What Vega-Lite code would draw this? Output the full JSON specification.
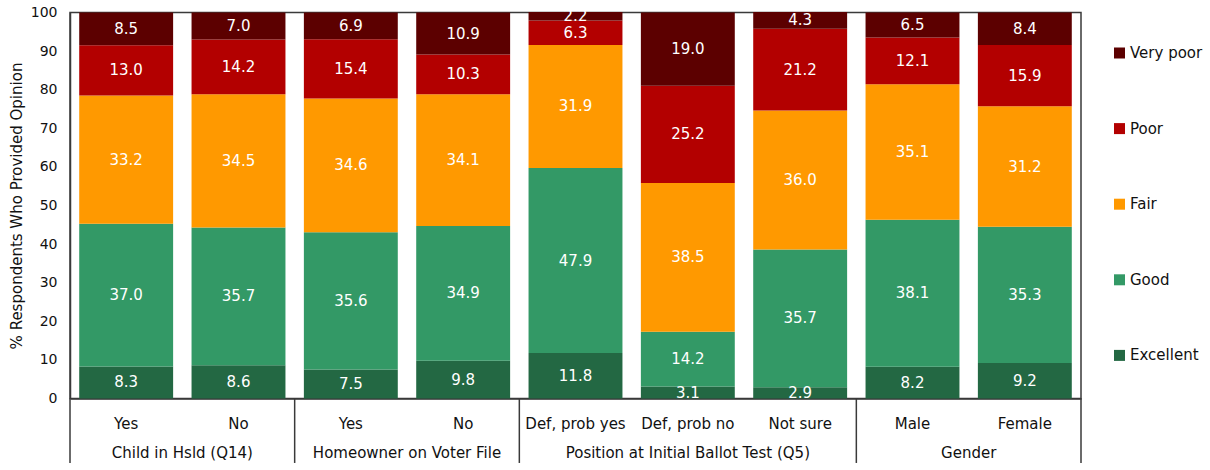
{
  "$schema": "https://vega.github.io/schema/vega-lite/v6.json",
  "autosize": {"type": "none"},
  "width": 1011,
  "height": 386,
  "padding": {"left": 70, "top": 12.5, "right": 129, "bottom": 71.5},
  "background": "white",
  "resolve": {"axis": {"y": "independent"}},
  "config": {
    "font": "DejaVu Sans",
    "view": {"stroke": "#3a3a3a", "strokeWidth": 1.5},
    "axis": {"grid": false, "labelColor": "#111", "titleColor": "#111", "domainColor": "#3a3a3a", "domainWidth": 1.5},
    "axisX": {"labelAngle": 0, "ticks": false, "labelPadding": 17.5, "labelFontSize": 15, "labelBaseline": "top"}
  },
  "datasets": {
    "ratings": [
      {"key": "Child|Yes", "group": "Child in Hsld (Q14)", "rating": "Excellent", "rank": 1, "pct": 8.3},
      {"key": "Child|Yes", "group": "Child in Hsld (Q14)", "rating": "Good", "rank": 2, "pct": 37.0},
      {"key": "Child|Yes", "group": "Child in Hsld (Q14)", "rating": "Fair", "rank": 3, "pct": 33.2},
      {"key": "Child|Yes", "group": "Child in Hsld (Q14)", "rating": "Poor", "rank": 4, "pct": 13.0},
      {"key": "Child|Yes", "group": "Child in Hsld (Q14)", "rating": "Very poor", "rank": 5, "pct": 8.5},
      {"key": "Child|No", "group": "Child in Hsld (Q14)", "rating": "Excellent", "rank": 1, "pct": 8.6},
      {"key": "Child|No", "group": "Child in Hsld (Q14)", "rating": "Good", "rank": 2, "pct": 35.7},
      {"key": "Child|No", "group": "Child in Hsld (Q14)", "rating": "Fair", "rank": 3, "pct": 34.5},
      {"key": "Child|No", "group": "Child in Hsld (Q14)", "rating": "Poor", "rank": 4, "pct": 14.2},
      {"key": "Child|No", "group": "Child in Hsld (Q14)", "rating": "Very poor", "rank": 5, "pct": 7.0},
      {"key": "Home|Yes", "group": "Homeowner on Voter File", "rating": "Excellent", "rank": 1, "pct": 7.5},
      {"key": "Home|Yes", "group": "Homeowner on Voter File", "rating": "Good", "rank": 2, "pct": 35.6},
      {"key": "Home|Yes", "group": "Homeowner on Voter File", "rating": "Fair", "rank": 3, "pct": 34.6},
      {"key": "Home|Yes", "group": "Homeowner on Voter File", "rating": "Poor", "rank": 4, "pct": 15.4},
      {"key": "Home|Yes", "group": "Homeowner on Voter File", "rating": "Very poor", "rank": 5, "pct": 6.9},
      {"key": "Home|No", "group": "Homeowner on Voter File", "rating": "Excellent", "rank": 1, "pct": 9.8},
      {"key": "Home|No", "group": "Homeowner on Voter File", "rating": "Good", "rank": 2, "pct": 34.9},
      {"key": "Home|No", "group": "Homeowner on Voter File", "rating": "Fair", "rank": 3, "pct": 34.1},
      {"key": "Home|No", "group": "Homeowner on Voter File", "rating": "Poor", "rank": 4, "pct": 10.3},
      {"key": "Home|No", "group": "Homeowner on Voter File", "rating": "Very poor", "rank": 5, "pct": 10.9},
      {"key": "Pos|Def, prob yes", "group": "Position at Initial Ballot Test (Q5)", "rating": "Excellent", "rank": 1, "pct": 11.8},
      {"key": "Pos|Def, prob yes", "group": "Position at Initial Ballot Test (Q5)", "rating": "Good", "rank": 2, "pct": 47.9},
      {"key": "Pos|Def, prob yes", "group": "Position at Initial Ballot Test (Q5)", "rating": "Fair", "rank": 3, "pct": 31.9},
      {"key": "Pos|Def, prob yes", "group": "Position at Initial Ballot Test (Q5)", "rating": "Poor", "rank": 4, "pct": 6.3},
      {"key": "Pos|Def, prob yes", "group": "Position at Initial Ballot Test (Q5)", "rating": "Very poor", "rank": 5, "pct": 2.2},
      {"key": "Pos|Def, prob no", "group": "Position at Initial Ballot Test (Q5)", "rating": "Excellent", "rank": 1, "pct": 3.1},
      {"key": "Pos|Def, prob no", "group": "Position at Initial Ballot Test (Q5)", "rating": "Good", "rank": 2, "pct": 14.2},
      {"key": "Pos|Def, prob no", "group": "Position at Initial Ballot Test (Q5)", "rating": "Fair", "rank": 3, "pct": 38.5},
      {"key": "Pos|Def, prob no", "group": "Position at Initial Ballot Test (Q5)", "rating": "Poor", "rank": 4, "pct": 25.2},
      {"key": "Pos|Def, prob no", "group": "Position at Initial Ballot Test (Q5)", "rating": "Very poor", "rank": 5, "pct": 19.0},
      {"key": "Pos|Not sure", "group": "Position at Initial Ballot Test (Q5)", "rating": "Excellent", "rank": 1, "pct": 2.9},
      {"key": "Pos|Not sure", "group": "Position at Initial Ballot Test (Q5)", "rating": "Good", "rank": 2, "pct": 35.7},
      {"key": "Pos|Not sure", "group": "Position at Initial Ballot Test (Q5)", "rating": "Fair", "rank": 3, "pct": 36.0},
      {"key": "Pos|Not sure", "group": "Position at Initial Ballot Test (Q5)", "rating": "Poor", "rank": 4, "pct": 21.2},
      {"key": "Pos|Not sure", "group": "Position at Initial Ballot Test (Q5)", "rating": "Very poor", "rank": 5, "pct": 4.3},
      {"key": "Gender|Male", "group": "Gender", "rating": "Excellent", "rank": 1, "pct": 8.2},
      {"key": "Gender|Male", "group": "Gender", "rating": "Good", "rank": 2, "pct": 38.1},
      {"key": "Gender|Male", "group": "Gender", "rating": "Fair", "rank": 3, "pct": 35.1},
      {"key": "Gender|Male", "group": "Gender", "rating": "Poor", "rank": 4, "pct": 12.1},
      {"key": "Gender|Male", "group": "Gender", "rating": "Very poor", "rank": 5, "pct": 6.5},
      {"key": "Gender|Female", "group": "Gender", "rating": "Excellent", "rank": 1, "pct": 9.2},
      {"key": "Gender|Female", "group": "Gender", "rating": "Good", "rank": 2, "pct": 35.3},
      {"key": "Gender|Female", "group": "Gender", "rating": "Fair", "rank": 3, "pct": 31.2},
      {"key": "Gender|Female", "group": "Gender", "rating": "Poor", "rank": 4, "pct": 15.9},
      {"key": "Gender|Female", "group": "Gender", "rating": "Very poor", "rank": 5, "pct": 8.4}
    ],
    "groupsEven": [
      {"key": "Child|Yes", "group": "Child in Hsld (Q14)"},
      {"key": "Home|Yes", "group": "Homeowner on Voter File"},
      {"key": "Gender|Male", "group": "Gender"}
    ],
    "groupsOdd": [
      {"key": "Pos|Def, prob no", "group": "Position at Initial Ballot Test (Q5)"}
    ],
    "groupStarts": [
      {"key": "Child|Yes"},
      {"key": "Home|Yes"},
      {"key": "Pos|Def, prob yes"},
      {"key": "Gender|Male"}
    ],
    "groupEnd": [
      {"key": "Gender|Female"}
    ]
  },
  "layer": [
    {
      "data": {"name": "ratings"},
      "mark": {"type": "bar", "width": {"band": 0.836}},
      "encoding": {
        "x": {
          "field": "key", "type": "nominal", "title": null,
          "scale": {"domain": ["Child|Yes", "Child|No", "Home|Yes", "Home|No", "Pos|Def, prob yes", "Pos|Def, prob no", "Pos|Not sure", "Gender|Male", "Gender|Female"], "paddingInner": 0, "paddingOuter": 0},
          "axis": {"labelExpr": "split(datum.label, '|')[1]"}
        },
        "y": {
          "field": "pct", "type": "quantitative", "stack": "zero",
          "scale": {"domain": [0, 100], "nice": false},
          "axis": {"title": "% Respondents Who Provided Opinion", "values": [0, 10, 20, 30, 40, 50, 60, 70, 80, 90, 100], "ticks": false, "labelPadding": 13, "labelFontSize": 14, "titleFontSize": 15, "titleFontWeight": "normal", "titlePadding": 5.5, "labelOverlap": false, "labelColor": "#111", "titleColor": "#111"}
        },
        "color": {
          "field": "rating", "type": "nominal",
          "scale": {"domain": ["Very poor", "Poor", "Fair", "Good", "Excellent"], "range": ["#5c0000", "#b30000", "#ff9900", "#339966", "#236843"]},
          "legend": {"orient": "none", "legendX": 1042, "legendY": 33, "title": null, "symbolType": "square", "symbolSize": 121, "symbolStrokeWidth": 0, "labelFontSize": 15, "labelColor": "#111", "rowPadding": 59.6, "labelOffset": 3, "padding": 0}
        },
        "order": {"field": "rank", "type": "quantitative"}
      }
    },
    {
      "data": {"name": "ratings"},
      "mark": {"type": "text", "color": "white", "fontSize": 15, "baseline": "middle", "align": "center"},
      "encoding": {
        "x": {"field": "key", "type": "nominal", "title": null},
        "y": {"field": "pct", "type": "quantitative", "stack": "zero", "bandPosition": 0.5, "axis": null},
        "detail": {"field": "rating"},
        "order": {"field": "rank", "type": "quantitative"},
        "text": {"field": "pct", "type": "quantitative", "format": ".1f"}
      }
    },
    {
      "data": {"name": "groupStarts"},
      "mark": {"type": "rule", "color": "#3a3a3a", "strokeWidth": 1.5},
      "encoding": {
        "x": {"field": "key", "type": "nominal", "bandPosition": 0, "title": null},
        "y": {"datum": 0, "type": "quantitative", "axis": null},
        "y2": {"datum": -16.7}
      }
    },
    {
      "data": {"name": "groupEnd"},
      "mark": {"type": "rule", "color": "#3a3a3a", "strokeWidth": 1.5},
      "encoding": {
        "x": {"field": "key", "type": "nominal", "bandPosition": 1, "title": null},
        "y": {"datum": 0, "type": "quantitative", "axis": null},
        "y2": {"datum": -16.7}
      }
    },
    {
      "data": {"name": "groupsEven"},
      "mark": {"type": "text", "fontSize": 15, "baseline": "middle", "align": "center", "color": "#111"},
      "encoding": {
        "x": {"field": "key", "type": "nominal", "bandPosition": 1, "title": null},
        "y": {"datum": -14.2, "type": "quantitative", "axis": null},
        "text": {"field": "group"}
      }
    },
    {
      "data": {"name": "groupsOdd"},
      "mark": {"type": "text", "fontSize": 15, "baseline": "middle", "align": "center", "color": "#111"},
      "encoding": {
        "x": {"field": "key", "type": "nominal", "bandPosition": 0.5, "title": null},
        "y": {"datum": -14.2, "type": "quantitative", "axis": null},
        "text": {"field": "group"}
      }
    }
  ]
}
